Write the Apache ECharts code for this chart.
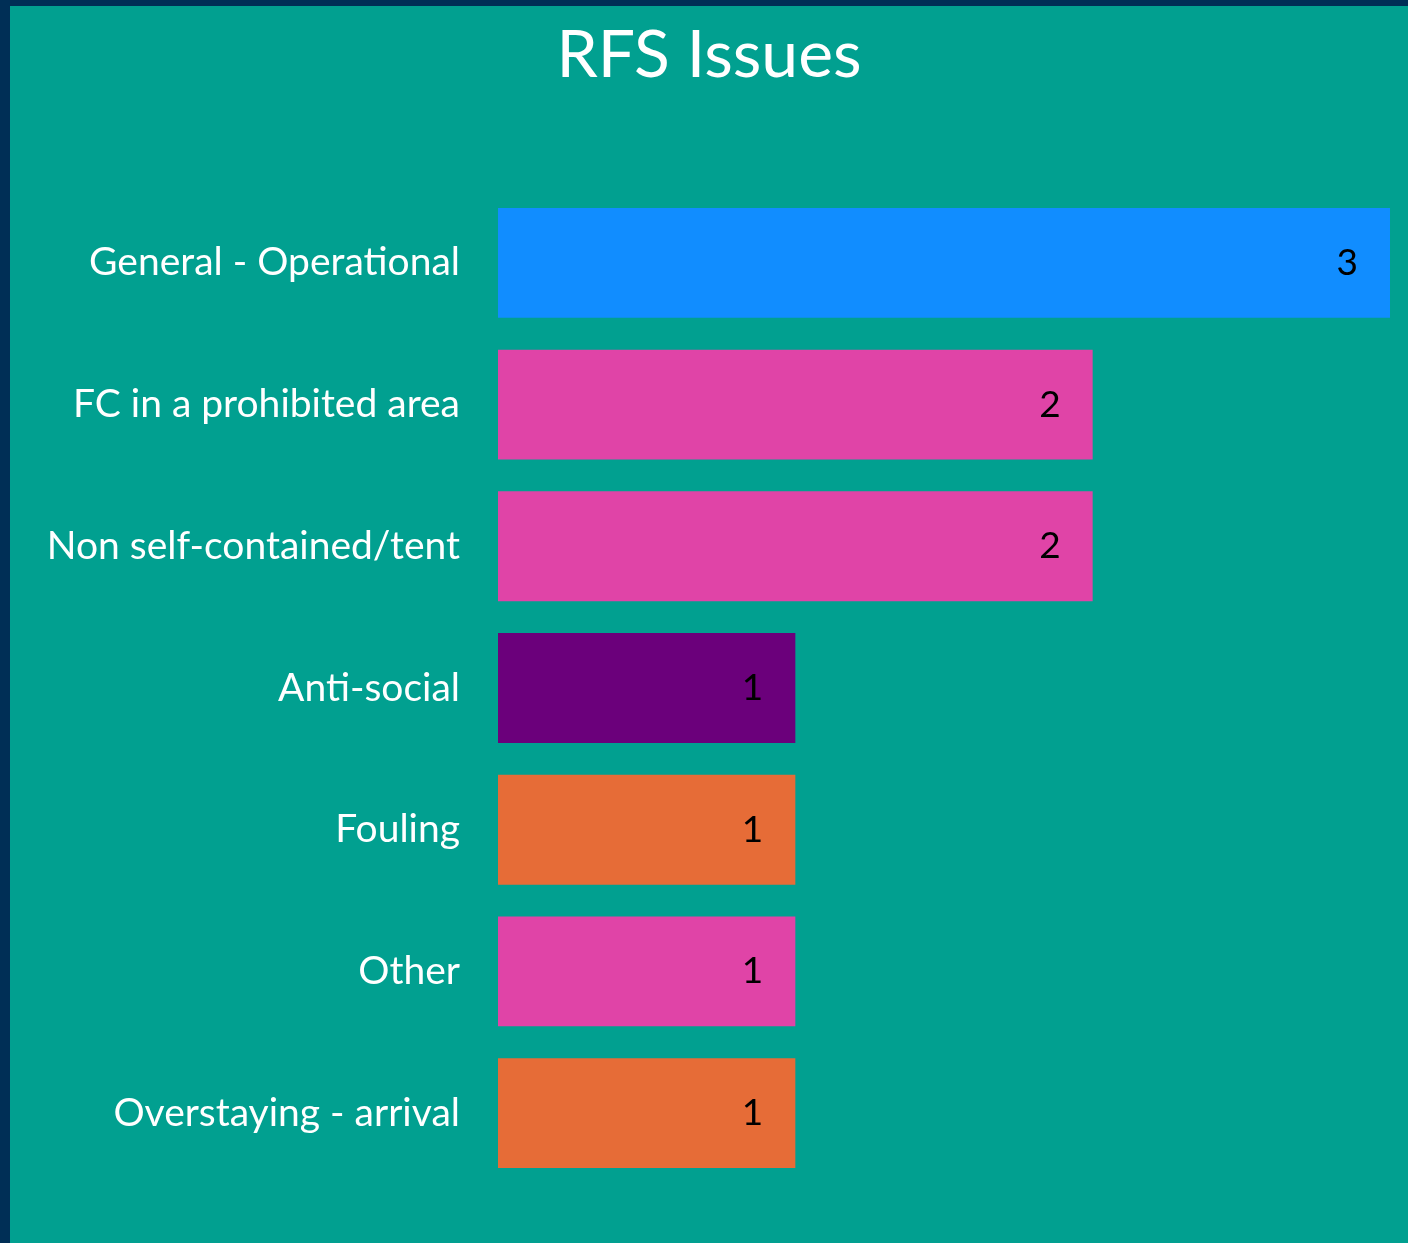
<!DOCTYPE html>
<html>
<head>
<meta charset="utf-8">
<script src="https://cdn.jsdelivr.net/npm/echarts@6/dist/echarts.min.js"></script>
<style>
  html, body { margin: 0; padding: 0; background: #002f56; }
  #main { position: absolute; left: 10px; top: 6px; width: 1398px; height: 1237px; }
</style>
</head>
<body>
<div id="main"></div>
<script>
// chart data
var categories = ['General - Operational', 'FC in a prohibited area', 'Non self-contained/tent', 'Anti-social', 'Fouling', 'Other', 'Overstaying - arrival']
var counts = [3, 2, 2, 1, 1, 1, 1]
var barColors = ['#118dff', '#e044a7', '#e044a7', '#6b007b', '#e66c37', '#e044a7', '#e66c37']

var fontName = 'Lato, "Open Sans", sans-serif'

var myChart = echarts.init(document.getElementById('main'))
myChart.setOption({
  backgroundColor: '#01a090',
  animation: false,
  title: {
    text: 'RFS Issues',
    left: 'center',
    top: 12,
    textStyle: {
      color: '#ffffff',
      fontSize: 66,
      fontWeight: 'normal',
      fontFamily: fontName
    }
  },
  grid: {
    left: 488,
    right: 18,
    top: 186,
    bottom: 59
  },
  xAxis: {
    type: 'value',
    min: 0,
    max: 3,
    show: false
  },
  yAxis: {
    type: 'category',
    inverse: true,
    data: categories,
    axisLine: { show: false },
    axisTick: { show: false },
    axisLabel: {
      color: '#ffffff',
      fontSize: 39,
      margin: 38,
      padding: [14, 0, 0, 0],
      fontFamily: fontName
    }
  },
  series: [
    {
      type: 'bar',
      barCategoryGap: '22.5%',
      data: counts.map(function (v, i) {
        return { value: v, itemStyle: { color: barColors[i] } }
      }),
      label: {
        show: true,
        position: 'insideRight',
        distance: 32,
        color: '#000000',
        fontSize: 37,
        padding: [10, 0, 0, 0],
        fontFamily: fontName
      }
    }
  ]
})
</script>
</body>
</html>
